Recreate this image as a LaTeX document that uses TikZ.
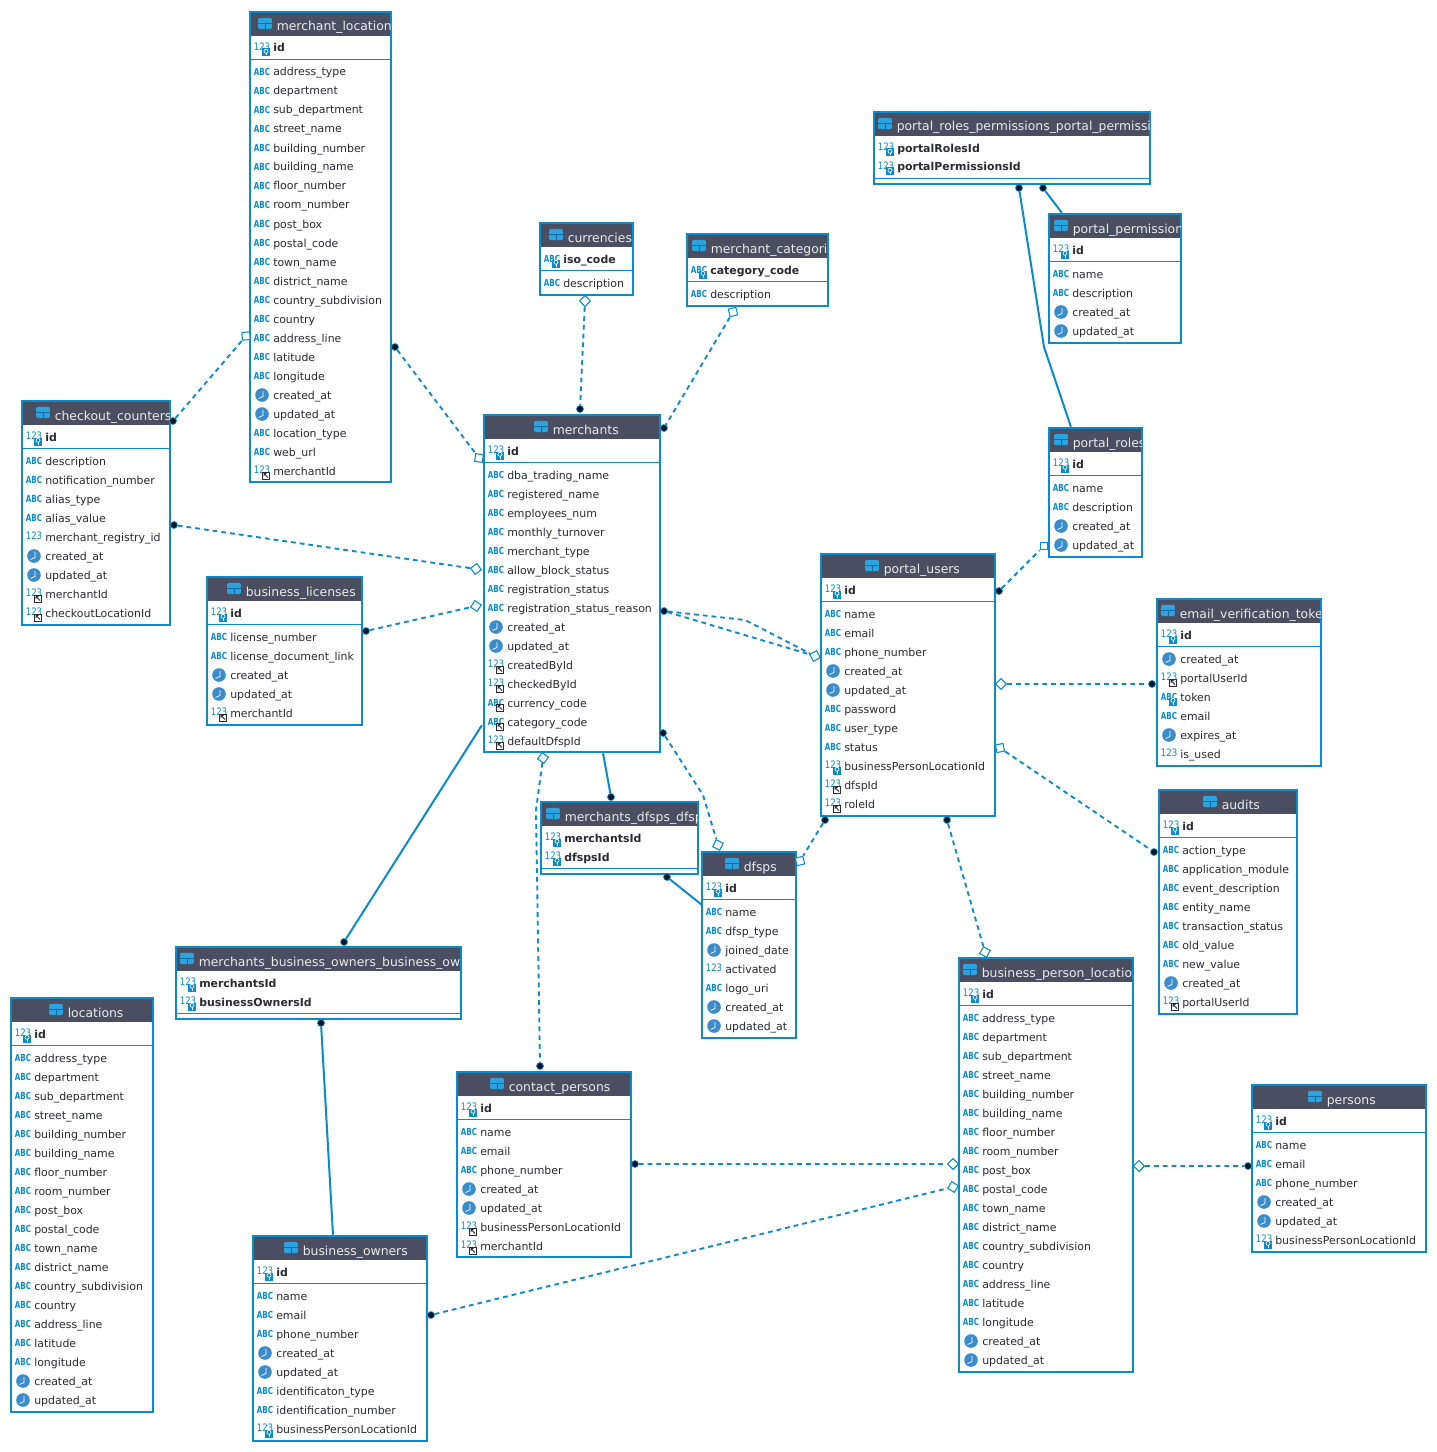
\documentclass[tikz,border=0pt]{standalone}
\usepackage{fontspec}
\usepackage{graphicx}
\setmainfont{DejaVu Sans}
\definecolor{cb}{HTML}{0A8BCE}
\definecolor{band}{HTML}{4A4E60}
\definecolor{ink}{HTML}{2A2A33}
\definecolor{clk}{HTML}{3A8CCB}
\definecolor{dotk}{HTML}{0C1424}
\definecolor{icfill}{HTML}{2BA3E0}
\definecolor{icline}{HTML}{14699F}
\tikzset{
 tblbox/.style={draw=cb,fill=white,line width=2.2pt,inner sep=0pt,rectangle},
 bandbox/.style={fill=band,inner sep=0pt,rectangle},
 rowtxt/.style={anchor=base west,inner sep=0pt,text=ink,font=\fontsize{8.2}{10}\selectfont},
 keytxt/.style={rowtxt,font=\fontsize{8.2}{10}\selectfont\bfseries},
 titletxt/.style={anchor=base west,inner sep=0pt,text=white!92!black,font=\fontsize{9.3}{12}\selectfont},
 abcic/.style={anchor=west,inner sep=0pt,text=cb,font=\fontsize{7.3}{8}\selectfont\bfseries},
 numic/.style={anchor=west,inner sep=0pt,text=cb,font=\fontsize{7.7}{8}\selectfont},
 clockic/.style={circle,fill=clk,inner sep=0pt,minimum size=10.2pt},
 tblic/.style={rectangle,rounded corners=1pt,fill=icfill,inner sep=0pt,minimum width=10.2pt,minimum height=8.4pt},
 dotm/.style={circle,fill=dotk,draw=cb,line width=0.5pt,inner sep=0pt,minimum size=5.2pt},
 mdia/.style={rectangle,draw=cb,fill=white,line width=0.8pt,inner sep=0pt,minimum size=5.8pt,rotate=45},
 mnone/.style={inner sep=0pt,minimum size=0pt},
 dashl/.style={draw=cb,line width=1.4pt,dash pattern=on 3.6pt off 3pt},
 soldl/.style={draw=cb,line width=1.5pt},
}
% icons: #1 x1 of the table, #2 row y, #3 node name
\newcommand\icbadgeK[2]{%
 \fill[cb] (#1+12,#2) rectangle (#1+20,#2+8);
 \draw[white,line width=0.5pt] (#1+16,#2+2.8) circle (1.5pt);
 \draw[white,line width=0.5pt] (#1+16,#2+4.5) -- (#1+16,#2+7);}
\newcommand\icbadgeF[2]{%
 \draw[fill=white,draw=ink,line width=0.7pt] (#1+12.5,#2+0.5) rectangle (#1+19.5,#2+7.5);
 \draw[ink,line width=0.6pt] (#1+14,#2+2) -- (#1+18,#2+6) (#1+14,#2+4.5) -- (#1+14,#2+2) -- (#1+16.5,#2+2);}
\newcommand\ica[3]{\node[abcic] (#3) at (#1+3.7,#2-0.3) {\scalebox{0.73}[1]{ABC}};}
\newcommand\icn[3]{\node[numic] (#3) at (#1+3.5,#2-1.2) {\scalebox{0.84}[1]{123}};}
\newcommand\icK[3]{\icn{#1}{#2}{#3}\icbadgeK{#1}{#2+0.5}}
\newcommand\icF[3]{\icn{#1}{#2}{#3}\icbadgeF{#1}{#2+0.5}}
\newcommand\icAk[3]{\ica{#1}{#2}{#3}\icbadgeK{#1}{#2+0.5}}
\newcommand\icAf[3]{\ica{#1}{#2}{#3}\icbadgeF{#1}{#2+0.5}}
\newcommand\icc[3]{\node[clockic] (#3) at (#1+12,#2) {};
 \draw[white,line width=0.55pt] (#1+13,#2-4) -- (#1+13,#2+1.5) -- (#1+8.5,#2+3.5);}
% table frame: id x1 x2 top bottom iconx title
\newcommand\tbl[7]{%
 \xdef\cid{#1}\xdef\cx{#2}\xdef\cxb{#3}\xdef\ctop{#4}%
 \pgfmathsetmacro\boxw{(#3-#2-2)*0.75}\pgfmathsetmacro\boxh{(#5-#4-1)*0.75}%
 \pgfmathsetmacro\bandw{(#3-#2-4.5)*0.75}%
 \node[tblbox,minimum width=\boxw pt,minimum height=\boxh pt] (#1) at ({(#2+#3)/2-1},{(#4+#5)/2-0.5}) {};
 \node[bandbox,minimum width=\bandw pt,minimum height=17.5pt] (#1-band) at ({(#2+#3)/2-1},#4+12.5) {};
 \node[tblic] (#1-ic) at (#6,#4+11.5) {};
 \draw[icline,line width=0.55pt] (#6-6.8,#4+11.5) -- (#6+6.8,#4+11.5) (#6,#4+11.5) -- (#6,#4+17);
 \begin{scope}
 \clip (#2+2,#4) rectangle (#3-3,#4+26);
 \node[titletxt] (#1-title) at (#6+11.5,#4+19) {#7};
 \end{scope}
}
\newcommand\tkeys[1]{%
 \foreach \ty/\tx [count=\i] in {#1}{%
  \pgfmathsetmacro\yy{\ctop+36+19*(\i-1)}%
  \csname ic\ty\endcsname{\cx}{\yy}{\cid-kic\i}
  \node[keytxt] (\cid-k\i) at (\cx+23,\yy+4) {\tx};
  \xdef\clast{\yy}%
 }%
 \draw[cb,line width=0.7pt] (\cx+1,\clast+11.5) -- (\cxb-3,\clast+11.5);
}
\newcommand\trows[1]{%
 \foreach \ty/\tx [count=\i] in {#1}{%
  \pgfmathsetmacro\yy{\clast+24+19*(\i-1)}%
  \csname ic\ty\endcsname{\cx}{\yy}{\cid-ric\i}
  \node[rowtxt] (\cid-r\i) at (\cx+23,\yy+4) {\tx};
 }%
}
% connector: style id typeA ax ay typeB bx by
\newcommand\conn[8]{%
 \pgfmathsetmacro\anga{atan2(-(#8-#5),#7-#4)}%
 \node[#3,rotate=\anga] (#2a) at (#4,#5) {};
 \node[#6,rotate=\anga] (#2b) at (#7,#8) {};
 \draw[#1] (#2a) -- (#2b);
}
\begin{document}
\catcode`\_=12
\begin{tikzpicture}[x=0.75pt,y=-0.75pt]
\useasboundingbox (0,0) rectangle (1437,1452);
\fill[white] (0,0) rectangle (1437,1452);

\tbl{ml}{250}{393}{12}{483}{265}{merchant_location}
\tkeys{K/id}
\trows{a/address_type,a/department,a/sub_department,a/street_name,a/building_number,a/building_name,a/floor_number,a/room_number,a/post_box,a/postal_code,a/town_name,a/district_name,a/country_subdivision,a/country,a/address_line,a/latitude,a/longitude,c/created_at,c/updated_at,a/location_type,a/web_url,F/merchantId}

\tbl{cur}{540}{635}{223}{296}{556}{currencies}
\tkeys{Ak/iso_code}
\trows{a/description}

\tbl{mc}{687}{830}{234}{307}{699}{merchant_categories}
\tkeys{Ak/category_code}
\trows{a/description}

\tbl{prp}{874}{1152}{112}{185}{885}{portal_roles_permissions_portal_permissions}
\tkeys{K/portalRolesId,K/portalPermissionsId}

\tbl{pp}{1049}{1183}{214}{344}{1061}{portal_permissions}
\tkeys{K/id}
\trows{a/name,a/description,c/created_at,c/updated_at}

\tbl{pr}{1049}{1144}{428}{558}{1061}{portal_roles}
\tkeys{K/id}
\trows{a/name,a/description,c/created_at,c/updated_at}

\tbl{cc}{22}{172}{401}{626}{43}{checkout_counters}
\tkeys{K/id}
\trows{a/description,a/notification_number,a/alias_type,a/alias_value,n/merchant_registry_id,c/created_at,c/updated_at,F/merchantId,F/checkoutLocationId}

\tbl{bl}{207}{364}{577}{726}{234}{business_licenses}
\tkeys{K/id}
\trows{a/license_number,a/license_document_link,c/created_at,c/updated_at,F/merchantId}

\tbl{mer}{484}{662}{415}{753}{541}{merchants}
\tkeys{K/id}
\trows{a/dba_trading_name,a/registered_name,a/employees_num,a/monthly_turnover,a/merchant_type,a/allow_block_status,a/registration_status,a/registration_status_reason,c/created_at,c/updated_at,F/createdById,F/checkedById,Af/currency_code,Af/category_code,F/defaultDfspId}

\tbl{pu}{821}{997}{554}{817}{872}{portal_users}
\tkeys{K/id}
\trows{a/name,a/email,a/phone_number,c/created_at,c/updated_at,a/password,a/user_type,a/status,K/businessPersonLocationId,F/dfspId,F/roleId}

\tbl{evt}{1157}{1323}{599}{767}{1168}{email_verification_tokens}
\tkeys{K/id}
\trows{c/created_at,F/portalUserId,Ak/token,a/email,c/expires_at,n/is_used}

\tbl{aud}{1159}{1299}{790}{1015}{1210}{audits}
\tkeys{K/id}
\trows{a/action_type,a/application_module,a/event_description,a/entity_name,a/transaction_status,a/old_value,a/new_value,c/created_at,F/portalUserId}

\tbl{mdd}{541}{700}{802}{875}{553}{merchants_dfsps_dfsps}
\tkeys{K/merchantsId,K/dfspsId}

\tbl{dfs}{702}{798}{852}{1039}{732}{dfsps}
\tkeys{K/id}
\trows{a/name,a/dfsp_type,c/joined_date,n/activated,a/logo_uri,c/created_at,c/updated_at}

\tbl{mbo}{176}{463}{947}{1020}{187}{merchants_business_owners_business_owners}
\tkeys{K/merchantsId,K/businessOwnersId}

\tbl{loc}{11}{155}{998}{1413}{56}{locations}
\tkeys{K/id}
\trows{a/address_type,a/department,a/sub_department,a/street_name,a/building_number,a/building_name,a/floor_number,a/room_number,a/post_box,a/postal_code,a/town_name,a/district_name,a/country_subdivision,a/country,a/address_line,a/latitude,a/longitude,c/created_at,c/updated_at}

\tbl{cp}{457}{633}{1072}{1258}{497}{contact_persons}
\tkeys{K/id}
\trows{a/name,a/email,a/phone_number,c/created_at,c/updated_at,F/businessPersonLocationId,F/merchantId}

\tbl{bo}{253}{429}{1236}{1442}{291}{business_owners}
\tkeys{K/id}
\trows{a/name,a/email,a/phone_number,c/created_at,c/updated_at,a/identificaton_type,a/identification_number,K/businessPersonLocationId}

\tbl{bpl}{959}{1135}{958}{1373}{970}{business_person_locations}
\tkeys{K/id}
\trows{a/address_type,a/department,a/sub_department,a/street_name,a/building_number,a/building_name,a/floor_number,a/room_number,a/post_box,a/postal_code,a/town_name,a/district_name,a/country_subdivision,a/country,a/address_line,a/latitude,a/longitude,c/created_at,c/updated_at}

\tbl{per}{1252}{1428}{1085}{1253}{1315}{persons}
\tkeys{K/id}
\trows{a/name,a/email,a/phone_number,c/created_at,c/updated_at,K/businessPersonLocationId}

% connectors
\conn{dashl}{ca}{dotm}{395}{347}{mdia}{479}{458}
\conn{dashl}{cb}{dotm}{173}{421}{mdia}{246}{336}
\conn{dashl}{cc}{dotm}{174}{525}{mdia}{476}{569}
\conn{dashl}{cd}{dotm}{366}{631}{mdia}{476}{606}
\conn{dashl}{ce}{mdia}{585}{301}{dotm}{580}{409}
\conn{dashl}{cf}{mdia}{733}{312}{dotm}{664}{428}
\conn{dashl}{cg}{dotm}{664}{611}{mdia}{815}{656}
\coordinate (cgv) at (745,620);
\draw[dashl] (cga) -- (cgv) -- (cgb);
\node[dotm] (cha) at (663,733) {};
\node[mdia,rotate=-72] (chb) at (718,845) {};
\coordinate (chv) at (703,795);
\draw[dashl] (cha) -- (chv) -- (chb);
\conn{soldl}{ci}{mnone}{603}{753}{dotm}{611}{797}
\conn{soldl}{cj}{dotm}{667}{877}{mnone}{702}{905}
\node[mdia,rotate=-80] (cka) at (543,758) {};
\node[dotm] (ckb) at (540,1066) {};
\coordinate (ckv) at (536,810);
\draw[dashl] (cka) -- (ckv) -- (ckb);
\conn{soldl}{cl}{mnone}{482}{725}{dotm}{344}{942}
\conn{soldl}{cm}{dotm}{321}{1023}{mnone}{333}{1235}
\conn{dashl}{cn}{dotm}{999}{591}{mdia}{1044}{546}
\node[dotm] (coa) at (1019,188) {};
\node[mnone] (cob) at (1071,427) {};
\coordinate (cov) at (1044,347);
\draw[soldl] (coa) -- (cov) -- (cob);
\conn{soldl}{cp}{dotm}{1043}{188}{mnone}{1062}{213}
\conn{dashl}{cq}{mdia}{1001}{684}{dotm}{1152}{684}
\conn{dashl}{cr}{mdia}{1000}{748}{dotm}{1154}{852}
\conn{dashl}{cs}{dotm}{825}{820}{mdia}{800}{861}
\conn{dashl}{ct}{dotm}{947}{820}{mdia}{985}{952}
\conn{dashl}{cu}{dotm}{635}{1164}{mdia}{953}{1164}
\conn{dashl}{cv}{dotm}{431}{1315}{mdia}{953}{1187}
\conn{dashl}{cw}{mdia}{1139}{1166}{dotm}{1248}{1166}
\end{tikzpicture}
\end{document}
